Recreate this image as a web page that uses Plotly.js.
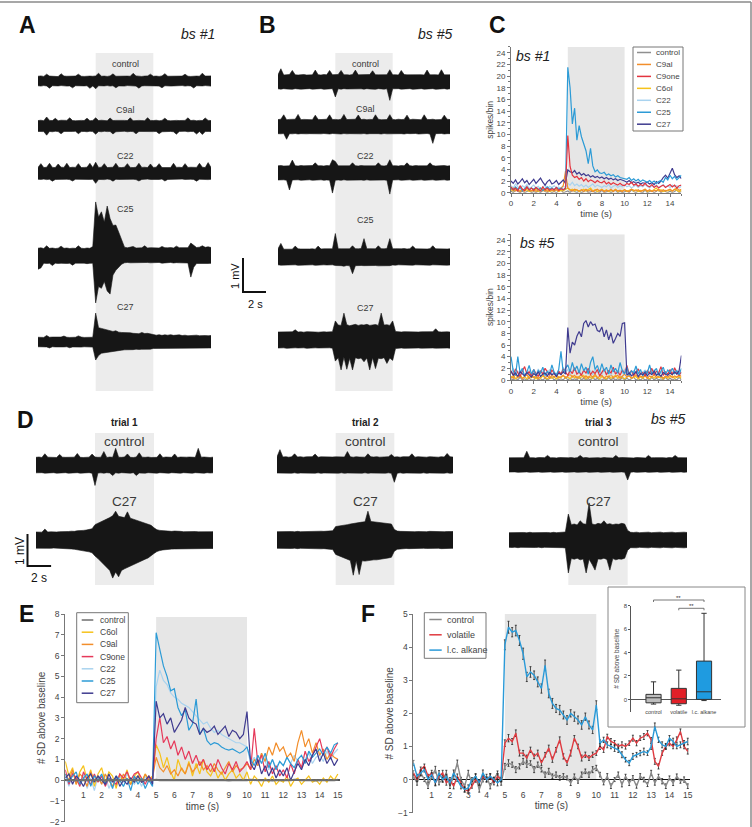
<!DOCTYPE html>
<html>
<head>
<meta charset="utf-8">
<script src="https://cdn.plot.ly/plotly-3.0.1.min.js"></script>
<style>html,body{margin:0;padding:0;background:#fff}#fig{width:752px;height:827px}</style>
</head>
<body>
<div id="fig"></div>
<script>
// ---------------------------------------------------------------------------
// Time bases (s)
// ---------------------------------------------------------------------------
const T25 = [0,0.25,0.5,0.75,1,1.25,1.5,1.75,2,2.25,2.5,2.75,3,3.25,3.5,3.75,4,4.25,4.5,4.75,
  5,5.25,5.5,5.75,6,6.25,6.5,6.75,7,7.25,7.5,7.75,8,8.25,8.5,8.75,9,9.25,9.5,9.75,
  10,10.25,10.5,10.75,11,11.25,11.5,11.75,12,12.25,12.5,12.75,13,13.25,13.5,13.75,14,14.25,14.5,14.75,15];
const T20 = [0,0.2,0.4,0.6,0.8,1,1.2,1.4,1.6,1.8,2,2.2,2.4,2.6,2.8,3,3.2,3.4,3.6,3.8,
  4,4.2,4.4,4.6,4.8,5,5.2,5.4,5.6,5.8,6,6.2,6.4,6.6,6.8,7,7.2,7.4,7.6,7.8,
  8,8.2,8.4,8.6,8.8,9,9.2,9.4,9.6,9.8,10,10.2,10.4,10.6,10.8,11,11.2,11.4,11.6,11.8,
  12,12.2,12.4,12.6,12.8,13,13.2,13.4,13.6,13.8,14,14.2,14.4,14.6,14.8,15];
const STIM = [5, 10];                       // odour puff window (s)
const secTicks = [1,2,3,4,5,6,7,8,9,10,11,12,13,14,15];

// ---------------------------------------------------------------------------
// Extracellular recordings: max / min per 0.25 s bin, in µV
// ---------------------------------------------------------------------------
// bs #1
const aControlHi = [140,150,135,200,145,140,150,130,215,145, 140,135,150,145,200,140,135,150,145,140, 150,230,140,145,135,150,210,140,145,150, 135,145,140,225,150,140,135,145,150,200, 140,145,135,150,215,140,145,150,135,140, 145,200,140,135,150,145,140,230,145,140, 150];
const aControlLo = [-140,-150,-135,-145,-210,-140,-150,-145,-135,-140, -150,-145,-200,-140,-135,-150,-145,-140,-215,-145, -230,-140,-150,-145,-135,-150,-140,-200,-145,-140, -150,-135,-145,-140,-150,-210,-145,-140,-135,-150, -140,-145,-150,-200,-140,-135,-150,-145,-140,-145, -135,-150,-140,-145,-205,-140,-150,-145,-135,-140, -150];
const aC9alHi = [160,170,155,265,165,160,225,155,170,160, 165,240,160,155,170,165,160,230,155,165, 240,160,170,165,155,235,160,165,170,155, 165,160,240,155,170,165,160,155,245,165, 160,170,155,165,230,160,155,170,165,160, 155,165,240,160,170,155,165,160,235,165, 160];
const aC9alLo = [-160,-170,-165,-270,-160,-170,-155,-165,-230,-160, -170,-165,-160,-155,-225,-165,-160,-170,-155,-165, -240,-160,-170,-155,-165,-160,-235,-170,-160,-165, -155,-170,-160,-165,-230,-160,-155,-170,-165,-160, -165,-160,-225,-170,-155,-165,-160,-170,-240,-160, -165,-155,-170,-160,-165,-235,-160,-250,-165,-160, -165];
const aC22Hi = [180,290,175,185,300,180,175,280,185,180, 300,175,185,180,290,175,180,185,300,175, 330,180,185,290,175,180,185,300,180,175, 185,290,180,175,185,300,180,185,175,280, 180,185,290,175,180,185,175,300,180,185, 175,290,180,185,175,180,300,185,175,320, 180];
const aC22Lo = [-170,-175,-165,-180,-170,-225,-175,-170,-165,-175, -170,-180,-220,-170,-175,-165,-180,-170,-175,-170, -290,-175,-170,-180,-165,-175,-225,-170,-175,-180, -170,-165,-175,-170,-180,-220,-175,-170,-165,-175, -170,-180,-175,-165,-220,-175,-170,-180,-175,-170, -165,-175,-180,-170,-175,-225,-170,-165,-175,-180, -170];
const aC25Hi = [230,240,220,300,225,235,220,230,290,225, 235,220,230,225,300,230,220,235,225,280, 1590,1150,1300,1000,1470,1100,900,910,700,480, 260,240,250,280,235,245,240,300,235,245, 240,250,235,280,245,240,250,235,290,245, 240,250,245,380,320,250,260,300,255,270, 250];
const aC25Lo = [-390,-350,-210,-220,-215,-280,-210,-220,-215,-210, -220,-215,-270,-210,-220,-215,-210,-225,-215,-210, -1380,-900,-950,-750,-1030,-1120,-560,-420,-320,-240, -200,-190,-200,-195,-210,-190,-200,-195,-190,-200, -195,-200,-190,-210,-195,-200,-190,-205,-195,-200, -200,-210,-205,-620,-330,-220,-230,-215,-225,-220, -215];
const aC27Hi = [140,145,135,190,140,145,140,135,145,175, 140,135,145,140,180,145,135,140,145,140, 850,420,400,380,350,330,310,330,290,280, 280,265,270,255,260,245,280,250,255,245, 220,200,215,195,210,200,215,195,205,210, 190,200,185,195,190,200,185,195,190,185, 190];
const aC27Lo = [-140,-150,-140,-145,-175,-140,-145,-140,-150,-145, -140,-170,-145,-140,-145,-150,-140,-145,-140,-150, -530,-400,-330,-300,-310,-280,-270,-260,-250,-240, -230,-235,-220,-225,-210,-220,-215,-220,-205,-210, -190,-180,-190,-175,-185,-190,-175,-180,-185,-180, -175,-180,-170,-185,-175,-180,-175,-170,-180,-175, -175];
// bs #5
const bControlHi = [210,390,205,215,220,340,210,205,215,220, 205,215,210,350,215,205,220,210,340,215, 210,220,340,210,215,205,220,350,210,215, 205,210,220,330,215,210,205,220,215,360, 210,215,205,340,220,210,215,205,210,220, 215,205,350,210,220,215,205,360,210,215, 210];
const bControlLo = [-200,-210,-195,-205,-200,-215,-195,-205,-210,-200, -205,-195,-210,-200,-205,-195,-215,-200,-205,-195, -440,-200,-210,-195,-205,-200,-215,-195,-205,-200, -210,-195,-205,-200,-215,-195,-205,-210,-200,-540, -200,-205,-195,-210,-200,-205,-195,-215,-200,-205, -195,-210,-200,-205,-195,-215,-200,-205,-195,-210, -200];
const bC9alHi = [210,220,350,205,215,210,220,360,205,215, 210,220,205,340,215,210,205,220,350,210, 215,205,220,360,210,215,205,220,345,210, 220,205,215,210,350,220,205,215,210,355, 215,205,220,210,215,340,205,220,210,215, 205,350,215,210,220,205,215,210,340,220, 210];
const bC9alLo = [-205,-210,-200,-370,-205,-210,-200,-215,-205,-200, -210,-205,-200,-215,-205,-210,-200,-205,-215,-200, -210,-205,-215,-200,-210,-205,-200,-215,-205,-210, -200,-215,-205,-210,-200,-205,-215,-200,-210,-205, -215,-200,-210,-205,-215,-200,-205,-210,-200,-215, -205,-210,-200,-215,-490,-205,-210,-200,-215,-205, -205];
const bC22Hi = [210,220,205,215,210,380,215,205,220,210, 215,205,220,300,210,215,205,220,210,390, 340,210,215,205,220,210,300,215,205,220, 210,215,205,220,210,300,215,205,220,390, 210,215,205,220,210,300,215,205,220,210, 205,215,210,300,220,205,215,210,220,205, 210];
const bC22Lo = [-205,-210,-200,-215,-500,-205,-210,-200,-215,-205, -210,-200,-215,-205,-210,-200,-215,-205,-210,-590, -210,-205,-215,-200,-210,-205,-215,-200,-210,-205, -215,-200,-210,-205,-215,-200,-210,-205,-215,-620, -205,-210,-200,-215,-205,-210,-200,-215,-205,-210, -200,-215,-205,-210,-200,-215,-205,-210,-200,-215, -205];
const bC25Hi = [240,400,230,235,245,230,320,240,235,230, 245,235,240,230,320,235,240,245,230,240, 690,245,240,235,250,240,330,245,240,250, 540,240,245,250,240,330,245,240,250,540, 240,245,235,240,250,235,245,320,240,235, 245,240,235,245,330,240,235,245,240,235, 240];
const bC25Lo = [-230,-240,-235,-230,-240,-235,-230,-245,-235,-230, -240,-235,-230,-245,-235,-240,-230,-235,-240,-230, -250,-260,-255,-270,-250,-260,-490,-255,-260,-250, -255,-250,-260,-255,-250,-260,-255,-250,-260,-255, -235,-240,-230,-235,-240,-230,-235,-240,-230,-235, -240,-230,-235,-240,-230,-235,-240,-230,-235,-240, -235];
const bC27Hi = [235,240,230,245,235,240,300,235,240,230, 245,235,240,235,230,245,240,235,240,245, 560,440,430,790,450,420,440,460,430,450, 440,460,430,445,455,430,790,440,450,430, 560,250,240,235,245,240,235,245,240,235, 240,245,235,240,245,330,240,235,245,240, 235];
const bC27Lo = [-235,-240,-230,-245,-235,-240,-230,-235,-240,-230, -245,-235,-240,-230,-235,-245,-240,-235,-230,-240, -620,-520,-880,-510,-860,-540,-880,-520,-550,-530, -640,-530,-880,-520,-840,-540,-550,-520,-690,-530, -600,-250,-240,-235,-245,-240,-235,-245,-240,-235, -240,-235,-245,-240,-235,-240,-245,-235,-240,-235, -240];
// bs #5, three repeated trials
const d1ControlHi = [240,250,235,350,245,240,250,235,330,245, 240,235,250,245,360,240,235,250,245,340, 250,240,245,420,235,250,240,520,245,240, 250,345,240,235,250,380,245,240,250,235, 245,240,350,235,250,245,240,345,235,250, 240,245,250,235,240,520,245,250,240,235, 245];
const d1ControlLo = [-245,-250,-240,-255,-245,-250,-240,-255,-245,-250, -240,-255,-245,-250,-240,-255,-245,-250,-240,-255, -640,-250,-245,-255,-240,-250,-330,-245,-255,-240, -250,-245,-255,-240,-330,-250,-245,-255,-240,-250, -245,-255,-240,-250,-245,-255,-240,-250,-245,-255, -240,-250,-245,-255,-240,-250,-245,-255,-240,-250, -245];
const d1C27Hi = [250,255,245,340,250,255,245,250,260,255, 270,265,275,270,290,285,300,310,330,350, 480,520,560,600,650,700,760,900,740,720, 700,880,680,650,620,600,560,540,500,460, 380,320,300,290,280,290,270,280,265,270, 260,265,255,260,265,255,260,250,265,255, 260];
const d1C27Lo = [-255,-260,-250,-265,-255,-260,-250,-265,-260,-255, -270,-275,-280,-290,-300,-310,-330,-350,-370,-400, -500,-580,-660,-760,-850,-950,-1190,-1000,-1150,-950, -900,-850,-820,-760,-720,-680,-640,-600,-560,-500, -420,-360,-330,-310,-300,-290,-285,-280,-275,-270, -265,-270,-260,-265,-270,-260,-265,-260,-270,-265, -265];
const d2ControlHi = [255,480,250,260,245,255,350,250,260,245, 255,250,260,340,245,255,250,260,245,250, 255,260,245,250,420,255,245,260,250,255, 245,350,255,250,260,245,255,250,260,330, 250,255,245,260,250,255,350,245,260,250, 255,245,260,250,255,245,260,250,360,255, 250];
const d2ControlLo = [-250,-255,-245,-260,-250,-255,-245,-260,-250,-255, -245,-260,-250,-255,-245,-260,-250,-255,-245,-260, -250,-255,-245,-260,-250,-255,-245,-260,-250,-255, -245,-260,-250,-255,-245,-260,-250,-255,-245,-260, -540,-255,-245,-260,-250,-255,-245,-260,-250,-255, -245,-260,-250,-255,-245,-260,-250,-255,-245,-260, -250];
const d2C27Hi = [260,265,255,270,260,265,255,270,260,265, 255,270,260,265,270,275,270,280,275,290, 420,430,450,460,480,500,520,540,560,560, 570,900,580,570,560,560,550,540,520,500, 330,280,270,265,260,270,265,260,265,260, 265,260,270,265,260,265,270,260,265,260, 265];
const d2C27Lo = [-260,-265,-255,-270,-260,-265,-255,-270,-260,-265, -255,-270,-260,-265,-270,-275,-270,-280,-285,-300, -450,-480,-520,-560,-600,-640,-1100,-650,-1080,-650, -660,-640,-640,-620,-620,-600,-600,-580,-560,-540, -350,-290,-280,-270,-265,-270,-265,-260,-270,-265, -260,-265,-270,-260,-265,-260,-270,-265,-260,-265, -260];
const d3ControlHi = [225,230,220,235,225,230,430,225,230,220, 235,225,230,300,225,230,220,235,225,230, 225,235,220,230,300,225,235,220,230,225, 230,220,235,225,230,220,300,225,235,230, 225,230,220,235,225,230,220,300,225,230, 235,225,230,220,235,225,300,230,225,235, 225];
const d3ControlLo = [-220,-225,-215,-230,-220,-225,-215,-230,-220,-225, -215,-230,-220,-225,-215,-230,-220,-225,-215,-230, -220,-225,-215,-230,-220,-225,-215,-230,-220,-225, -215,-230,-220,-225,-215,-230,-220,-225,-215,-230, -470,-225,-215,-230,-220,-225,-215,-230,-220,-225, -215,-230,-220,-225,-215,-230,-220,-225,-215,-230, -220];
const d3C27Hi = [230,235,225,240,230,235,225,240,230,235, 225,240,230,235,225,240,230,235,245,250, 810,480,500,470,600,510,490,1160,500,480, 520,500,600,490,510,480,500,490,520,500, 300,240,235,245,230,240,235,245,230,240, 235,245,230,240,235,245,230,240,235,245, 235];
const d3C27Lo = [-230,-235,-225,-240,-230,-235,-225,-240,-230,-235, -225,-240,-230,-235,-225,-240,-230,-235,-240,-250, -1030,-580,-600,-570,-620,-590,-1030,-600,-760,-940, -590,-600,-570,-610,-940,-580,-620,-590,-600,-570, -320,-240,-235,-245,-230,-240,-235,-245,-230,-240, -235,-245,-230,-240,-235,-245,-230,-240,-235,-245, -235];

// ---------------------------------------------------------------------------
// Peri-stimulus spike counts (spikes/bin), 0.2 s bins
// ---------------------------------------------------------------------------
const odorNames = ['control','C9al','C9one','C6ol','C22','C25','C27'];
const odorColors = ['#8f8f8f','#f28e2b','#e3343f','#f6c21b','#a9d3ef','#2c9bd6','#3f3b8f'];
const bs1Control = [0.3,0,0.5,0.2,0,0.3,0,0.2,0.5,0, 0.2,0,0.3,0,0.5,0.2,0,0.3,0,0.2, 0,0.3,0.5,0,0.2,0.3,0,0.5,0.2,0, 0.3,0,0.2,0.5,0,0.2,0.3,0,0.2,0, 0.5,0,0.2,0.3,0,0.2,0.5,0,0.3,0, 0.2,0.3,0,0.5,0.2,0,0.3,0.2,0,0.5, 0,0.2,0.3,0,0.2,0.5,0,0.3,0.2,0, 0.3,0,0.2,0.5,0,0.2];
const bs1C9al = [0.5,0.8,0.3,0.5,0.2,0.6,0.3,0.8,0.5,0.3, 0.6,0.2,0.5,0.8,0.3,0.5,0.2,0.6,0.4,0.3, 0.5,0.3,0.8,1.2,3.7,0.8,0.5,0.3,0.6,0.4, 0.3,0.5,0.2,0.6,0.3,0.5,0.2,0.4,0.6,0.3, 0.5,0.2,0.4,0.3,0.6,0.2,0.5,0.3,0.4,0.2, 0.5,0.3,0.2,0.6,0.4,0.3,0.5,0.2,0.4,0.6, 0.3,0.5,0.2,0.4,0.3,0.6,0.2,0.5,0.3,0.4, 0.6,0.3,0.5,0.8,0.4,0.6];
const bs1C9one = [1.0,0.5,0.8,0.3,1.2,0.6,0.4,1.0,0.5,0.8, 0.4,0.9,0.6,0.3,1.0,0.5,0.8,0.4,0.7,0.5, 0.9,0.4,0.7,0.5,0.8,9.8,4.5,3.0,2.6,2.8, 2.3,2.6,2.0,2.4,1.9,2.2,2.0,1.7,2.1,1.8, 1.7,2.0,1.5,1.8,1.4,1.7,1.5,1.3,1.6,1.3, 1.2,1.6,1.4,1.8,1.3,1.5,1.1,1.4,1.2,1.6, 1.2,1.0,1.4,0.9,1.2,0.8,1.1,1.3,0.9,1.2, 1.4,1.0,1.3,0.8,1.2,1.3];
const bs1C6ol = [0.5,0.3,0.8,0.4,0.2,0.6,0.3,0.5,0.2,0.4, 0.3,0.6,0.2,0.4,0.7,0.3,0.5,0.2,0.4,0.3, 0.5,0.2,0.4,0.3,0.6,0.8,0.4,0.6,0.3,0.5, 0.2,0.4,0.6,0.3,0.5,0.8,0.3,0.5,0.2,0.4, 0.6,0.3,0.5,0.2,0.4,0.3,0.6,0.2,0.4,0.3, 0.5,0.2,0.4,0.6,0.3,0.5,0.2,0.4,0.3,0.6, 0.2,0.4,0.3,0.5,0.8,0.3,0.5,0.2,0.4,0.3, 0.5,0.3,0.6,0.4,0.2,0.4];
const bs1C22 = [1.2,0.8,1.5,1.0,0.6,1.2,0.9,1.4,0.7,1.0, 1.3,0.8,1.1,0.6,1.0,1.3,0.7,1.1,0.9,1.2, 0.8,1.0,0.6,1.1,0.9,1.6,1.3,1.8,1.2,1.5, 1.1,1.4,1.0,1.3,0.9,1.2,1.5,1.0,1.3,1.1, 0.9,1.2,1.0,1.4,0.8,1.1,1.3,0.9,1.2,1.0, 1.4,1.0,1.2,0.8,1.1,1.3,0.9,1.2,1.0,1.4, 1.1,0.8,1.2,1.0,1.3,0.9,1.1,1.4,1.0,1.2, 0.9,1.3,1.0,1.2,0.8,1.1];
const bs1C25 = [0.8,0.5,1.0,0.6,0.9,0.4,0.7,1.0,0.5,0.8, 0.6,0.9,0.5,0.8,0.4,0.7,1.0,0.6,0.8,0.5, 0.9,0.6,0.8,0.5,0.7,21.5,18.0,11.8,14.5,9.0, 11.5,9.6,8.2,7.2,5.0,7.6,4.6,3.6,3.9,3.4, 3.3,3.5,3.0,3.2,2.9,3.1,2.7,2.9,2.6,2.5, 2.5,2.3,2.6,2.1,2.4,2.0,2.3,1.9,2.2,2.0, 1.8,2.1,1.7,2.0,1.6,1.9,2.1,1.8,2.6,2.2, 3.0,2.4,2.8,2.2,2.6,3.0];
const bs1C27 = [2.0,1.6,2.2,1.5,1.9,2.4,1.7,2.1,1.4,1.8, 2.3,1.6,2.0,2.5,1.8,1.3,1.9,2.2,1.5,1.7, 2.1,1.4,1.8,2.2,1.6,3.9,3.6,3.4,3.8,3.2, 3.5,3.0,3.3,2.9,3.1,2.7,2.9,2.6,2.8,2.5, 2.7,2.4,2.6,2.3,2.5,2.2,2.4,2.1,2.3,2.2, 2.0,1.8,2.1,1.7,1.9,1.6,1.8,1.5,1.7,1.6, 1.8,1.5,1.7,1.4,1.9,1.6,2.0,2.6,3.0,2.5, 3.4,4.2,3.1,2.6,2.9,2.4];
const bs5Control = [0.2,0,0.3,0,0.5,0,0.2,0,0.3,0, 0,0.5,0,0.2,0,0.3,0,0.2,0.5,0, 0.3,0,0.2,0,0.5,0,0.3,0,0.2,0, 0.5,0,0.3,0,0.2,0,0.5,0,0.3,0, 0,0.2,0,0.5,0,0.3,0,0.2,0,0.5, 0,0.3,0,0.2,0.5,0,0.2,0,0.3,0, 0.2,0,0.5,0,0.3,0,0.2,0,0.5,0, 0.3,0,0.2,0,0.5,0];
const bs5C9al = [0.6,0.3,1.0,0.4,0.8,0.2,0.6,0.9,0.3,0.7, 0.4,0.8,0.2,0.6,1.0,0.4,0.7,0.3,0.8,0.5, 0.9,0.3,0.6,0.8,0.4,0.7,1.0,0.5,0.8,0.3, 0.6,0.9,0.4,0.7,0.3,0.8,0.5,1.0,0.4,0.6, 0.8,0.3,0.7,0.5,0.9,0.4,0.6,0.8,0.3,0.7, 1.0,0.5,0.8,0.3,0.6,0.9,0.4,0.7,0.5,0.8, 0.3,0.7,0.5,0.9,0.4,0.6,0.8,0.3,0.7,0.5, 0.8,0.4,0.7,0.5,0.9,0.6];
const bs5C9one = [1.6,0.8,1.9,1.2,0.6,1.5,2.3,1.0,1.4,0.7, 1.8,1.1,0.6,1.6,1.0,2.0,1.3,0.8,1.7,1.1, 0.7,1.5,1.0,1.9,1.3,0.8,1.6,1.1,2.1,1.0, 1.4,0.8,1.7,1.2,2.0,0.9,1.5,1.1,1.8,0.7, 1.3,1.9,0.9,1.6,1.2,2.2,1.0,1.5,0.8,1.7, 1.1,2.5,1.0,1.6,0.8,1.4,1.9,1.0,1.3,0.7, 1.6,1.1,2.0,0.9,1.5,1.2,2.3,0.8,1.4,1.0, 1.8,0.9,2.1,1.3,0.8,1.4];
const bs5C6ol = [0.4,0.7,0.2,0.5,0.9,0.3,0.6,0.2,0.8,0.4, 0.6,0.2,0.5,0.3,0.7,0.4,0.2,0.6,0.3,0.5, 0.2,0.6,0.4,0.8,0.3,0.5,0.2,0.7,0.4,0.6, 0.3,0.5,0.8,0.2,0.6,0.4,0.3,0.7,0.5,0.2, 0.6,0.4,0.2,0.7,0.3,0.5,0.8,0.3,0.6,0.4, 0.2,0.5,0.7,0.3,0.4,0.6,0.2,0.5,0.3,0.7, 0.4,0.2,0.6,0.3,0.8,0.4,0.5,0.2,0.6,0.3, 0.5,0.7,0.3,0.4,0.6,0.3];
const bs5C22 = [1.2,2.0,0.8,1.5,1.0,1.8,0.7,1.3,1.6,0.9, 1.4,0.8,1.9,1.1,1.5,0.7,1.2,1.8,1.0,1.4, 0.9,1.6,1.1,2.2,1.3,1.8,1.0,1.5,2.0,1.2, 1.7,1.0,1.4,2.1,1.2,1.6,0.9,1.8,1.3,1.5, 1.0,1.7,1.2,1.5,0.8,1.9,1.3,1.0,1.6,1.2, 1.8,1.1,1.4,0.8,1.6,1.2,1.9,1.0,1.3,1.7, 1.0,1.5,1.2,1.8,0.9,1.4,1.1,1.7,1.3,0.9, 1.5,1.1,1.8,1.2,1.4,1.0];
const bs5C25 = [4.0,1.5,0.8,4.0,1.2,2.0,0.6,1.4,2.5,1.0, 1.8,0.7,1.6,1.2,2.2,0.8,1.5,1.0,2.6,1.3, 0.9,1.8,4.9,1.2,2.0,2.6,1.4,3.0,1.6,2.4, 1.2,2.8,1.6,2.2,1.0,3.0,4.0,1.8,2.5,1.3, 2.8,1.5,2.2,1.0,2.6,1.4,2.0,1.2,3.0,1.6, 1.0,2.2,0.8,1.6,1.2,2.4,1.0,1.8,0.7,1.5, 1.2,2.6,1.0,1.6,2.0,0.8,1.4,2.2,1.0,1.7, 1.3,2.0,1.1,1.6,0.9,2.0];
const bs5C27 = [1.5,0.8,1.2,0.6,1.4,1.0,0.7,1.3,0.9,0.5, 1.1,0.8,1.4,0.6,1.0,1.2,0.7,1.3,0.9,1.1, 0.6,1.2,0.9,1.4,1.0,9.0,4.6,6.5,6.0,7.5, 8.3,7.4,9.7,10.2,9.1,10.0,9.4,9.6,8.5,8.3, 9.1,7.4,8.6,6.9,8.1,6.3,7.1,8.0,7.5,9.7, 9.8,0.8,1.2,0.7,1.0,1.4,0.6,1.1,0.9,1.3, 0.7,1.2,0.9,1.5,0.8,1.1,0.6,1.3,1.0,0.8, 1.2,0.9,1.4,1.0,1.6,4.2];

// ---------------------------------------------------------------------------
// Population response (# SD above baseline), 0.2 s bins
// ---------------------------------------------------------------------------
const popNames = ['control','C6ol','C9al','C9one','C22','C25','C27'];
const popColors = ['#6e6e6e','#f6c21b','#f28e2b','#e6395a','#a9d3ef','#2c9bd6','#3f3b8f'];
const popControl = [0,0.02,0,-0.02,0,0.01,0,-0.01,0,0.02, 0,-0.02,0,0.01,0,-0.01,0,0.02,0,-0.01, 0,0.01,0,-0.02,0,0.02,0,-0.01,0,0.01, 0,-0.02,0,0.01,0,0.02,0,-0.01,0,0.01, 0,-0.01,0,0.02,0,-0.02,0,0.01,0,-0.01, 0,0.02,0,-0.01,0,0.01,0,-0.02,0,0.01, 0,-0.01,0,0.02,0,-0.01,0,0.01,0,-0.02, 0,0.01,0,-0.01,0,0.02];
const popC6ol = [0.9,0.2,0.6,-0.2,0.4,0.7,0.0,0.5,-0.3,0.3, 0.6,-0.1,0.4,0.2,-0.4,0.3,0.0,0.5,-0.2,0.2, 0.4,-0.1,0.3,0.0,0.2,1.7,1.3,0.6,1.1,0.4, 0.0,1.0,0.5,0.3,0.9,0.2,0.8,0.3,1.0,0.4, 0.2,0.6,0.1,0.4,0.0,0.3,0.5,0.1,0.3,0.0, 0.4,-0.2,0.2,0.0,-0.3,0.1,-0.1,0.2,-0.2,0.0, -0.1,0.2,-0.3,0.0,0.1,-0.2,0.0,0.2,-0.1,0.0, -0.2,0.1,-0.1,0.2,0.0,0.3];
const popC9al = [0.3,0.0,0.5,-0.2,0.3,0.1,-0.3,0.4,0.0,0.2, -0.2,0.3,0.0,-0.3,0.2,-0.1,0.3,0.0,-0.2,0.1, 0.2,-0.1,0.3,0.0,0.1,1.1,0.6,0.4,0.7,0.3, 0.5,0.2,0.6,0.3,0.8,0.4,0.6,0.9,0.5,0.7, 0.4,0.8,0.5,0.3,0.6,0.9,0.4,0.7,0.5,0.6, 0.8,0.5,1.0,0.7,1.3,0.9,1.6,1.2,1.8,1.4, 1.6,1.1,1.3,0.9,1.8,2.4,1.6,2.0,1.3,1.8, 1.2,1.5,1.0,1.3,1.1,1.0];
const popC9one = [0.5,-0.2,0.3,0.1,-0.3,0.4,0.0,-0.2,0.3,-0.1, 0.2,-0.3,0.1,0.0,-0.2,0.3,0.1,0.4,0.0,0.3, 0.4,0.1,-0.2,0.2,0.0,2.0,3.0,1.8,2.1,1.5, 1.9,1.2,1.6,1.0,1.4,0.8,1.2,0.7,1.0,0.5, 0.8,0.4,1.0,0.6,0.3,0.8,0.5,0.9,0.4,0.6, 0.9,0.5,2.5,0.8,1.2,0.4,0.9,0.3,0.7,0.2, 0.5,0.1,0.8,0.3,1.0,0.6,1.4,0.9,1.2,1.6, 2.0,1.3,1.6,1.1,1.5,1.8];
const popC22 = [0.2,-0.3,0.4,0.0,-0.2,0.3,-0.4,0.1,-0.5,0.2, -0.2,0.3,-0.4,0.0,-0.3,0.2,-0.1,0.3,0.0,-0.2, 0.1,-0.3,0.2,0.0,-0.2,4.5,5.3,4.8,4.6,4.2, 4.0,3.9,3.7,3.6,3.5,3.3,3.1,2.9,2.7,2.8, 2.5,2.3,2.4,2.2,2.1,2.0,1.9,1.8,1.8,1.7, 1.6,0.8,1.1,0.7,1.3,0.9,0.5,1.0,0.6,0.9, 0.7,1.1,0.8,1.2,0.9,0.6,1.0,1.3,0.8,1.1, 1.2,0.9,1.4,1.0,1.3,1.5];
const popC25 = [0.3,-0.1,0.2,0.4,-0.2,0.1,0.3,-0.3,0.2,0.0, 0.3,-0.2,0.1,-0.4,0.2,0.0,-0.3,0.1,-0.5,0.2, -0.2,0.1,-0.4,0.0,-0.3,7.1,6.3,5.5,5.0,4.3, 4.4,3.5,3.1,3.4,2.4,2.7,3.9,2.2,2.5,1.9, 1.7,1.8,1.75,1.6,1.5,1.45,1.5,1.4,1.3,1.4, 1.6,1.0,0.7,1.2,0.8,1.3,0.6,1.0,0.5,0.9, 0.7,1.1,0.8,0.6,1.0,1.2,0.8,1.4,1.1,1.3, 1.5,1.2,1.6,1.3,1.7,1.8];
const popC27 = [0.1,0.3,-0.2,0.2,0.0,-0.3,0.1,0.3,-0.1,0.2, 0.0,-0.2,0.3,-0.1,0.2,-0.3,0.0,-0.2,0.1,-0.1, 0.2,-0.1,0.0,0.2,-0.2,3.8,3.0,3.2,2.7,3.0, 2.3,2.6,2.9,3.5,3.0,2.8,2.7,2.2,2.5,2.3, 2.4,2.6,2.2,2.4,2.6,2.1,2.4,2.3,2.0,2.2, 3.3,0.8,0.5,1.0,0.3,0.7,0.2,0.6,0.1,0.5, 0.2,0.6,0.0,0.4,0.8,0.5,1.0,0.7,1.2,1.5, 0.9,1.3,0.8,1.1,0.7,1.0];

// Odour classes: mean ± SEM
const classNames = ['control','volatile','l.c. alkane'];
const classColors = ['#8a8a8a','#e03a40','#2a9ad8'];
const classControl = [0.1,-0.1,0.2,0.0,-0.2,0.1,0.3,-0.1,0.0,0.2, -0.2,0.1,0.5,0.0,-0.2,0.2,-0.1,0.1,-0.3,0.0, 0.1,-0.2,0.0,0.2,-0.1,0.4,0.5,0.45,0.3,0.4, 0.55,0.45,0.5,0.3,0.45,0.3,0.15,0.25,0.1,0.15, 0.05,0.1,0.05,-0.1,0.1,-0.05,0.15,0.25,0.15,0.3, 0.35,0.15,-0.1,0.1,-0.2,0.0,0.15,-0.15,0.1,-0.1, 0.05,-0.2,0.1,0.0,-0.15,0.2,-0.1,0.1,-0.05,-0.2, 0.05,-0.1,0.1,-0.05,0.0,-0.2];
const classVolatile = [0.2,0.0,0.3,0.4,0.1,0.2,-0.1,0.1,0.2,-0.1, 0.0,-0.2,0.1,-0.1,-0.3,-0.35,-0.2,0.0,-0.1,0.1, 0.0,0.1,-0.1,0.1,0.0,1.1,1.25,1.15,1.4,0.8, 0.8,0.65,0.9,0.7,0.8,0.5,0.75,0.95,0.6,0.9, 1.2,0.7,0.5,0.8,1.25,1.0,0.65,0.75,0.65,0.75, 0.8,1.0,0.9,1.3,1.15,1.1,1.0,1.05,1.0,1.1, 1.25,1.1,1.25,1.3,1.4,1.2,0.55,0.4,0.8,1.0, 1.1,1.0,1.2,1.45,1.0,0.85];
const classAlkane = [0.5,0.1,0.2,0.3,0.0,0.15,-0.1,0.2,0.0,0.1, -0.1,0.2,0.0,-0.2,-0.3,-0.25,0.0,0.1,-0.1,0.2, 0.0,0.1,0.0,-0.1,0.0,4.07,4.6,4.45,4.5,4.2, 3.8,3.1,3.25,3.15,2.95,2.75,3.45,2.6,2.3,2.15, 2.1,1.95,1.8,2.0,1.9,1.8,1.65,1.9,1.65,1.5, 2.25,1.1,1.2,1.05,1.0,0.95,0.9,0.75,0.6,0.5, 0.7,0.75,0.8,0.85,0.8,1.0,1.6,1.2,1.05,1.0, 1.25,1.15,1.0,1.05,1.1,1.15];
const semControl = [0.06,0.07,0.08,0.06,0.07,0.08,0.1,0.06,0.07,0.08, 0.07,0.06,0.09,0.07,0.06,0.08,0.07,0.06,0.08,0.07, 0.06,0.08,0.07,0.06,0.07,0.09,0.1,0.08,0.09,0.08, 0.09,0.08,0.07,0.09,0.08,0.07,0.08,0.09,0.07,0.08, 0.07,0.08,0.06,0.08,0.07,0.06,0.08,0.07,0.08,0.09, 0.08,0.07,0.06,0.08,0.07,0.06,0.08,0.07,0.06,0.08, 0.07,0.06,0.08,0.07,0.06,0.08,0.07,0.06,0.08,0.07, 0.06,0.08,0.07,0.06,0.08,0.07];
const semVolatile = [0.07,0.06,0.08,0.07,0.06,0.08,0.07,0.06,0.08,0.07, 0.06,0.08,0.07,0.06,0.08,0.07,0.06,0.08,0.07,0.06, 0.08,0.07,0.06,0.08,0.07,0.1,0.11,0.09,0.1,0.09, 0.08,0.09,0.08,0.07,0.09,0.08,0.07,0.09,0.08,0.07, 0.09,0.08,0.07,0.09,0.08,0.07,0.09,0.08,0.07,0.08, 0.07,0.09,0.08,0.07,0.09,0.08,0.07,0.09,0.08,0.07, 0.09,0.08,0.07,0.09,0.08,0.07,0.09,0.08,0.07,0.09, 0.08,0.07,0.09,0.08,0.07,0.08];
const semAlkane = [0.08,0.06,0.09,0.07,0.08,0.06,0.09,0.07,0.08,0.06, 0.07,0.09,0.06,0.08,0.07,0.09,0.06,0.08,0.07,0.09, 0.06,0.08,0.07,0.09,0.06,0.15,0.18,0.14,0.16,0.15, 0.17,0.14,0.16,0.13,0.15,0.14,0.16,0.13,0.15,0.12, 0.14,0.12,0.13,0.11,0.14,0.12,0.13,0.11,0.12,0.11, 0.13,0.1,0.08,0.09,0.07,0.1,0.08,0.09,0.07,0.08, 0.09,0.07,0.08,0.1,0.07,0.09,0.11,0.08,0.09,0.07, 0.08,0.1,0.07,0.09,0.08,0.1];

// Response during stimulation, per odour class (box summary)
const boxColors = ['#bdbdbd','#e21f27','#1f9be0'];
const boxLowerFence = [-0.4, -0.5, -0.1];
const boxQ1 = [-0.29, -0.37, 0.0];
const boxMedian = [0.14, 0.05, 0.65];
const boxQ3 = [0.43, 0.94, 3.27];
const boxUpperFence = [1.5, 2.5, 7.35];
const sigPairs = [[0, 2], [1, 2]];
const sigLabels = ['**', '**'];

// Scale bar: 1 mV, 2 s
const scaleBarSeconds = [0, 0, 2];
const scaleBarMicrovolts = [1000, 0, 0];

// ---------------------------------------------------------------------------
// Figure assembly
// ---------------------------------------------------------------------------
const W = 752, H = 827;
const px = v => v / W;
const py = v => 1 - v / H;
const FONT = 'Liberation Sans, Arial, Helvetica, sans-serif';

[[T25, 61], [T20, 76]].forEach(([a, n]) => { if (a.length !== n) throw new Error('time base length ' + a.length); });

const traces = [];
const shapes = [];
const annotations = [];
const layout = {
  width: W, height: H, autosize: false,
  margin: {l: 0, r: 0, t: 0, b: 0, pad: 0},
  paper_bgcolor: '#ffffff', plot_bgcolor: 'rgba(0,0,0,0)',
  font: {family: FONT, size: 9, color: '#333'},
  showlegend: false, shapes, annotations
};

let nAx = 0;
function subplot(xDom, yDom, xOpt, yOpt) {
  nAx++;
  const s = nAx === 1 ? '' : String(nAx);
  layout['xaxis' + s] = Object.assign({domain: xDom, anchor: 'y' + s, showgrid: false, zeroline: false, fixedrange: true}, xOpt);
  layout['yaxis' + s] = Object.assign({domain: yDom, anchor: 'x' + s, showgrid: false, zeroline: false, fixedrange: true}, yOpt);
  return {x: 'x' + s, y: 'y' + s};
}

function text(t, x, y, size, extra) {
  annotations.push(Object.assign({
    text: t, x: px(x), y: py(y), xref: 'paper', yref: 'paper', showarrow: false,
    xanchor: 'center', yanchor: 'middle', font: {family: FONT, size: size, color: '#333'}
  }, extra || {}));
}

// ---- raw recordings (min/max envelope per bin) ----------------------------
function recordingColumn(col) {
  const uvPerPx = 1000 / col.pxPerMv;
  const half = 70;
  let firstAx = null;
  col.rows.forEach(r => {
    if (r.hi.length !== T25.length || r.lo.length !== T25.length) throw new Error('bad envelope ' + r.name);
    const ax = subplot([px(col.x0), px(col.x1)], [py(r.yc + half), py(r.yc - half)],
      {range: [0, 15], visible: false}, {range: [-half * uvPerPx, half * uvPerPx], visible: false});
    if (!firstAx) firstAx = ax;
    traces.push({
      x: T25.concat(T25.slice().reverse()), y: r.hi.concat(r.lo.slice().reverse()),
      xaxis: ax.x, yaxis: ax.y, type: 'scatter', mode: 'lines', fill: 'toself',
      fillcolor: '#161616', line: {color: '#161616', width: 0.6}, hoverinfo: 'skip'
    });
    text(r.name, col.labelX, r.ly, col.labelSize, {font: {family: FONT, size: col.labelSize, color: '#3a3a3a'}});
  });
  shapes.push({type: 'rect', xref: firstAx.x, yref: 'paper', x0: STIM[0], x1: STIM[1],
    y0: py(col.shadeBottom), y1: py(col.shadeTop), fillcolor: '#ececec', line: {width: 0}, layer: 'below'});
}

recordingColumn({x0: 38, x1: 211, pxPerMv: 34, shadeTop: 53, shadeBottom: 391, labelX: 125, labelSize: 9, rows: [
  {name: 'control', hi: aControlHi, lo: aControlLo, yc: 81, ly: 64},
  {name: 'C9al', hi: aC9alHi, lo: aC9alLo, yc: 126, ly: 110},
  {name: 'C22', hi: aC22Hi, lo: aC22Lo, yc: 173.5, ly: 156},
  {name: 'C25', hi: aC25Hi, lo: aC25Lo, yc: 256, ly: 209},
  {name: 'C27', hi: aC27Hi, lo: aC27Lo, yc: 342, ly: 307}]});
recordingColumn({x0: 278, x1: 450, pxPerMv: 34, shadeTop: 53, shadeBottom: 391, labelX: 365, labelSize: 9, rows: [
  {name: 'control', hi: bControlHi, lo: bControlLo, yc: 82, ly: 64},
  {name: 'C9al', hi: bC9alHi, lo: bC9alLo, yc: 126.7, ly: 109},
  {name: 'C22', hi: bC22Hi, lo: bC22Lo, yc: 173, ly: 156},
  {name: 'C25', hi: bC25Hi, lo: bC25Lo, yc: 257, ly: 220},
  {name: 'C27', hi: bC27Hi, lo: bC27Lo, yc: 340, ly: 308}]});
[[36, 213, d1ControlHi, d1ControlLo, d1C27Hi, d1C27Lo, 'trial 1'],
 [277, 453, d2ControlHi, d2ControlLo, d2C27Hi, d2C27Lo, 'trial 2'],
 [509, 687, d3ControlHi, d3ControlLo, d3C27Hi, d3C27Lo, 'trial 3']].forEach(d => {
  const mid = d[0] + (d[1] - d[0]) * 7.5 / 15;
  recordingColumn({x0: d[0], x1: d[1], pxPerMv: 32, shadeTop: 433, shadeBottom: 585, labelX: mid, labelSize: 13.5, rows: [
    {name: 'control', hi: d[2], lo: d[3], yc: 465, ly: 441},
    {name: 'C27', hi: d[4], lo: d[5], yc: 540, ly: 501}]});
  text('<b>' + d[6] + '</b>', mid, 422, 10, {font: {family: FONT, size: 10, color: '#222'}});
});

function scaleBar(xLeft, yBottom, pxPerS, pxPerMv) {
  const ax = subplot([px(xLeft - 0.3 * pxPerS), px(xLeft + 2.4 * pxPerS)],
    [py(yBottom + 0.15 * pxPerMv), py(yBottom - 1.1 * pxPerMv)],
    {range: [-0.3, 2.4], visible: false}, {range: [-150, 1100], visible: false});
  traces.push({x: scaleBarSeconds, y: scaleBarMicrovolts, xaxis: ax.x, yaxis: ax.y, type: 'scatter',
    mode: 'lines', line: {color: '#111', width: 2}, hoverinfo: 'skip'});
}
scaleBar(243, 292, 11.5, 34);
text('1 mV', 235, 276, 11, {textangle: -90, font: {family: FONT, size: 11, color: '#111'}});
text('2 s', 255, 304, 11, {font: {family: FONT, size: 11, color: '#111'}});
scaleBar(27.5, 566, 11.8, 32);
text('1 mV', 20, 551, 12, {textangle: -90, font: {family: FONT, size: 12, color: '#111'}});
text('2 s', 39, 578, 12, {font: {family: FONT, size: 12, color: '#111'}});

// ---- manual legends -------------------------------------------------------
function legendBox(names, colors, box, rowY, step, lineX, textX, size) {
  shapes.push({type: 'rect', xref: 'paper', yref: 'paper', x0: px(box[0]), x1: px(box[2]), y0: py(box[3]), y1: py(box[1]),
    fillcolor: '#ffffff', line: {color: '#777', width: 1}});
  names.forEach((n, i) => {
    const y = rowY + i * step;
    shapes.push({type: 'line', xref: 'paper', yref: 'paper', x0: px(lineX[0]), x1: px(lineX[1]), y0: py(y), y1: py(y),
      line: {color: colors[i], width: 1.5}});
    text(n, textX, y, size, {xanchor: 'left', font: {family: FONT, size: size, color: '#444'}});
  });
}

// ---- C: spike histograms --------------------------------------------------
const tickFont = {family: FONT, size: 8, color: '#444'};
function histChart(yZero, series, order) {
  const ax = subplot([px(511), px(511 + 15 * 11.36)], [py(yZero), py(yZero - 25 * 5.83)],
    {range: [0, 15], tick0: 0, dtick: 2, ticks: 'outside', ticklen: 3, tickcolor: '#777', showline: true,
     linecolor: '#777', linewidth: 1, tickfont: tickFont,
     minor: {dtick: 1, ticks: 'outside', ticklen: 2, tickcolor: '#777'},
     title: {text: 'time (s)', font: {family: FONT, size: 9.5, color: '#444'}, standoff: 3}},
    {range: [0, 25], tick0: 0, dtick: 2, ticks: 'outside', ticklen: 3, tickcolor: '#777', showline: true,
     linecolor: '#777', linewidth: 1, tickfont: tickFont,
     minor: {dtick: 1, ticks: 'outside', ticklen: 2, tickcolor: '#777'},
     title: {text: 'spikes/bin', font: {family: FONT, size: 8.5, color: '#444'}, standoff: 1}});
  shapes.push({type: 'rect', xref: ax.x, yref: ax.y, x0: STIM[0], x1: STIM[1], y0: 0, y1: 25,
    fillcolor: '#e6e6e6', line: {width: 0}, layer: 'below'});
  order.forEach(i => {
    if (series[i].length !== T20.length) throw new Error('bad series ' + odorNames[i]);
    traces.push({x: T20, y: series[i], xaxis: ax.x, yaxis: ax.y, type: 'scatter', mode: 'lines',
      line: {color: odorColors[i], width: 1.2}, name: odorNames[i], hoverinfo: 'skip'});
  });
}
histChart(192.7, [bs1Control, bs1C9al, bs1C9one, bs1C6ol, bs1C22, bs1C25, bs1C27], [0, 3, 4, 1, 6, 5, 2]);
histChart(380, [bs5Control, bs5C9al, bs5C9one, bs5C6ol, bs5C22, bs5C25, bs5C27], [0, 3, 1, 4, 2, 5, 6]);
legendBox(odorNames, odorColors, [633, 47, 683, 131], 52.5, 11.95, [637, 651], 654, 8);

// ---- E: response of the population per odour -----------------------------
const sdFont = {family: FONT, size: 8.5, color: '#444'};
function sdChart(x0, pxPerS, yTop, yBottom, yRange, zeroY, zeroColor) {
  return subplot([px(x0), px(x0 + 15.1 * pxPerS)], [py(yBottom), py(yTop)],
    {range: [0, 15.1], tickvals: secTicks, anchor: 'free', position: py(zeroY), ticks: 'outside', ticklen: 7,
     tickcolor: 'rgba(0,0,0,0)', showline: false, tickfont: sdFont,
     title: {text: 'time (s)', font: {family: FONT, size: 10, color: '#444'}, standoff: 3}},
    {range: yRange, dtick: 1, ticks: 'outside', ticklen: 3, tickcolor: '#777', showline: true, linecolor: '#777',
     linewidth: 1, tickfont: sdFont, zeroline: true, zerolinecolor: zeroColor, zerolinewidth: 1.5,
     title: {text: '# SD above baseline', font: {family: FONT, size: 10, color: '#444'}, standoff: 2}});
}
const axE = sdChart(65.3, 18.17, 614, 821.7, [-2, 8], 780, '#555');
shapes.push({type: 'rect', xref: axE.x, yref: axE.y, x0: STIM[0], x1: STIM[1], y0: 0, y1: 7.85,
  fillcolor: '#e6e6e6', line: {width: 0}, layer: 'below'});
const popSeries = [popControl, popC6ol, popC9al, popC9one, popC22, popC25, popC27];
[4, 1, 2, 3, 5, 6, 0].forEach(i => {
  if (popSeries[i].length !== T20.length) throw new Error('bad pop ' + popNames[i]);
  traces.push({x: T20, y: popSeries[i], xaxis: axE.x, yaxis: axE.y, type: 'scatter', mode: 'lines',
    line: {color: popColors[i], width: i === 0 ? 2 : 1.2}, name: popNames[i], hoverinfo: 'skip'});
});
legendBox(popNames, popColors, [76.7, 612.7, 128.3, 702.7], 620, 12.2, [81.7, 93.3], 97.7, 8.5);

// ---- F: odour classes -----------------------------------------------------
const axF = sdChart(413.4, 18.29, 614, 812.7, [-1, 5], 779.6, '#111');
shapes.push({type: 'rect', xref: axF.x, yref: axF.y, x0: STIM[0], x1: STIM[1], y0: 0, y1: 5,
  fillcolor: '#e6e6e6', line: {width: 0}, layer: 'below'});
[[classControl, semControl], [classVolatile, semVolatile], [classAlkane, semAlkane]].forEach((s, i) => {
  if (s[0].length !== T20.length || s[1].length !== T20.length) throw new Error('bad class ' + classNames[i]);
  traces.push({x: T20, y: s[0], xaxis: axF.x, yaxis: axF.y, type: 'scatter', mode: 'lines',
    line: {color: classColors[i], width: 1.4}, name: classNames[i], hoverinfo: 'skip',
    error_y: {type: 'data', array: s[1], visible: true, color: '#222', thickness: 0.8, width: 1}});
});
legendBox(classNames, classColors, [424.3, 612.7, 486, 658.3], 619.5, 15.3, [429.3, 441.7], 445, 9);

// inset: box summary
shapes.push({type: 'rect', xref: 'paper', yref: 'paper', x0: px(608), x1: px(745), y0: py(727), y1: py(587),
  fillcolor: '#ffffff', line: {color: '#888', width: 1}, layer: 'below'});
const inFont = {family: FONT, size: 6, color: '#444'};
const axIn = subplot([px(631.3), px(720.7)], [py(711.7), py(605.7)],
  {type: 'category', categoryarray: classNames, range: [-0.88, 2.66], anchor: 'free', position: py(707),
   ticks: '', showline: false, tickfont: {family: FONT, size: 5.5, color: '#444'}},
  {range: [-1.05, 8], tickvals: [0, 2, 4, 6, 8], ticks: 'outside', ticklen: 2, tickcolor: '#555', showline: true,
   linecolor: '#555', linewidth: 1, tickfont: inFont, zeroline: true, zerolinecolor: '#555', zerolinewidth: 1,
   title: {text: '# SD above baseline', font: {family: FONT, size: 6.5, color: '#444'}, standoff: 3}});
classNames.forEach((n, i) => {
  traces.push({type: 'box', x: [n], q1: [boxQ1[i]], median: [boxMedian[i]], q3: [boxQ3[i]],
    lowerfence: [boxLowerFence[i]], upperfence: [boxUpperFence[i]], xaxis: axIn.x, yaxis: axIn.y,
    fillcolor: boxColors[i], line: {color: '#333', width: 1}, width: 0.6, whiskerwidth: 0.35,
    boxpoints: false, hoverinfo: 'skip', name: n});
});
sigPairs.forEach((p, k) => {
  const yb = k === 0 ? 600 : 608.3;
  shapes.push({type: 'path', xref: axIn.x, yref: 'paper',
    path: 'M' + p[0] + ',' + py(yb + 2) + ' L' + p[0] + ',' + py(yb) + ' L' + p[1] + ',' + py(yb) + ' L' + p[1] + ',' + py(yb + 2),
    line: {color: '#555', width: 0.8}});
  annotations.push({text: sigLabels[k], x: (p[0] + p[1]) / 2, y: py(yb - 2.5), xref: axIn.x, yref: 'paper',
    showarrow: false, xanchor: 'center', yanchor: 'middle', font: {family: FONT, size: 6, color: '#333'}});
});

// ---- panel letters, headers, frame ----------------------------------------
const letterFont = {family: FONT, size: 23, color: '#111'};
[['A', 27, 25], ['B', 267, 25], ['C', 497, 25], ['D', 25, 420], ['E', 26, 614], ['F', 368, 614]].forEach(l =>
  text('<b>' + l[0] + '</b>', l[1], l[2], 23, {font: letterFont}));
const bsFont = {family: FONT, size: 14, color: '#222'};
text('<i>bs #1</i>', 198, 34, 14, {font: bsFont});
text('<i>bs #5</i>', 435, 34, 14, {font: bsFont});
text('<i>bs #1</i>', 533, 56, 14, {font: bsFont});
text('<i>bs #5</i>', 537, 243, 14, {font: bsFont});
text('<i>bs #5</i>', 668, 419, 14, {font: bsFont});
shapes.push({type: 'line', xref: 'paper', yref: 'paper', x0: 0, x1: px(751), y0: py(2), y1: py(2), line: {color: '#8a8a8a', width: 1.5}});
shapes.push({type: 'line', xref: 'paper', yref: 'paper', x0: px(751), x1: px(751), y0: py(2), y1: 0, line: {color: '#8a8a8a', width: 1.5}});

Plotly.newPlot('fig', traces, layout, {staticPlot: true, displayModeBar: false});
</script>
</body>
</html>
